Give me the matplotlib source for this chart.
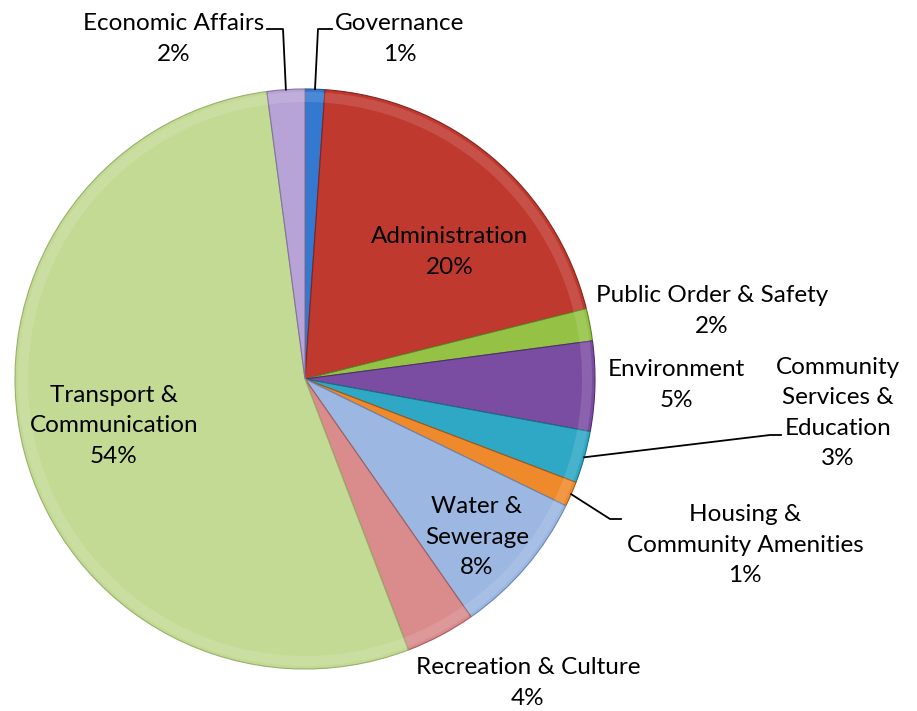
import numpy as np
import matplotlib.pyplot as plt
from matplotlib.patches import Wedge

# === Data ===
categories = ["Governance", "Administration", "Public Order & Safety", "Environment",
              "Community\nServices &\nEducation", "Housing &\nCommunity Amenities",
              "Water &\nSewerage", "Recreation & Culture", "Transport &\nCommunication",
              "Economic Affairs"]
shares = [1.1, 20.0, 1.8, 5.0, 2.9, 1.4, 8.1, 3.9, 53.7, 2.1]
colors = ["#3479CF", "#C0392F", "#95C244", "#7A4DA3", "#2FA8C6", "#EE8A2C",
          "#9BB7E2", "#D98C8B", "#C3DA94", "#B7A3D5"]
edges = ["#22528E", "#84231D", "#5F8227", "#4F2E6E", "#1B6E84", "#A45A17",
         "#6A86B3", "#A05E5D", "#98B06A", "#8371A0"]

# label block centres (pixels from top-left) and leader elbows
W, H = 917, 711
cx, cy, R = 305, 379, 290
label_pos = [(400, 39), (450, 252), (712, 311), (676, 385), (838, 413),
             (745, 545), (477, 537), (528, 683), (114, 426), (174, 39)]
leaders = {0: [(318, 29), (332, 29)],
           9: [(283, 29), (267, 29)],
           4: [(770, 435), (781, 435)],
           5: [(610, 519), (621, 519)]}

fig = plt.figure(figsize=(W / 100, H / 100), dpi=100)
ax = fig.add_axes([0, 0, 1, 1])

wedges, _ = ax.pie(shares, colors=colors, startangle=90, counterclock=False,
                   center=(cx, H - cy), radius=R,
                   wedgeprops=dict(linewidth=0.8))
for w, ec in zip(wedges, edges):
    w.set_edgecolor(ec)

# subtle bevel highlight along the rim
for w in wedges:
    ring = Wedge((cx, H - cy), R - 3, w.theta1, w.theta2,
                 width=10, facecolor="white", alpha=0.12, linewidth=0)
    ax.add_patch(ring)

for i, (name, v) in enumerate(zip(categories, shares)):
    x, y = label_pos[i]
    ax.text(x, H - y, f"{name}\n{round(v)}%", ha="center", va="center",
            fontsize=17.5, family="Lato", linespacing=1.55, color="black")
    if i in leaders:
        w = wedges[i]
        mid = np.deg2rad((w.theta1 + w.theta2) / 2)
        px = cx + R * np.cos(mid)
        py = (H - cy) + R * np.sin(mid)
        pts = [(px, py)] + [(a, H - b) for a, b in leaders[i]]
        xs, ys = zip(*pts)
        ax.plot(xs, ys, color="black", linewidth=1.3)

ax.set_xlim(0, W)
ax.set_ylim(0, H)
ax.set_aspect("equal")
ax.axis("off")

fig.savefig("out.png", dpi=100)
